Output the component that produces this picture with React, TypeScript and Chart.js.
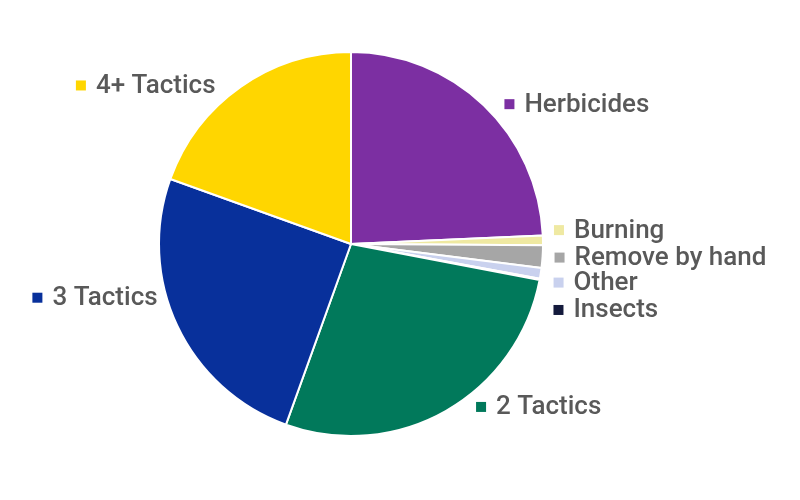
import React, { useEffect, useRef } from "react";
import { Chart, registerables } from "chart.js";

Chart.register(...registerables);

const categories = [
  "Herbicides",
  "Burning",
  "Remove by hand",
  "Other",
  "Insects",
  "2 Tactics",
  "3 Tactics",
  "4+ Tactics",
];
const values = [24.3, 0.8, 1.9, 0.9, 0.1, 27.5, 25.0, 19.5];
const colors = [
  "#7C2FA2",
  "#EFE9A2",
  "#A6A6A6",
  "#C9D1EE",
  "#141A3C",
  "#01795B",
  "#08309B",
  "#FFD600",
];
// label placement tweaks (px) relative to the outside anchor of each slice
const labelNudge: [number, number][] = [
  [11, 9],
  [-3, -10],
  [-2, 0],
  [-1, 7],
  [0, 28],
  [23, -16],
  [-7, -34],
  [-17, 10],
];

const LABEL_GAP = 14;
const FONT = "500 26px Roboto";
const TEXT_COLOR = "#595959";
const SQ = 10;
const SQ_GAP = 10;

const labelPlugin = {
  id: "outsideLabels",
  afterDatasetsDraw(chart: any) {
    const ctx = chart.ctx as CanvasRenderingContext2D;
    const meta = chart.getDatasetMeta(0);
    ctx.save();
    ctx.font = FONT;
    ctx.textBaseline = "middle";
    ctx.textAlign = "left";
    meta.data.forEach((arc: any, i: number) => {
      const p = arc.getProps(["x", "y", "startAngle", "endAngle", "outerRadius"], true);
      const mid = (p.startAngle + p.endAngle) / 2;
      const r = p.outerRadius + LABEL_GAP;
      const ax = p.x + Math.cos(mid) * r + labelNudge[i][0];
      const ay = p.y + Math.sin(mid) * r + labelNudge[i][1];
      const label = categories[i];
      const w = ctx.measureText(label).width;
      const boxW = SQ + SQ_GAP + w;
      const left = Math.cos(mid) >= 0 ? ax : ax - boxW;
      ctx.fillStyle = colors[i];
      ctx.fillRect(left, ay - SQ / 2, SQ, SQ);
      ctx.fillStyle = TEXT_COLOR;
      ctx.fillText(label, left + SQ + SQ_GAP, ay + 1);
    });
    ctx.restore();
  },
};

export default function App() {
  const ref = useRef<HTMLCanvasElement | null>(null);
  useEffect(() => {
    document.body.style.margin = "0";
    if (!ref.current) return;
    const chart = new Chart(ref.current, {
      type: "pie",
      data: {
        labels: categories,
        datasets: [
          {
            data: values,
            backgroundColor: colors,
            borderColor: "#FFFFFF",
            borderWidth: 2,
          },
        ],
      },
      options: {
        animation: false,
        responsive: false,
        maintainAspectRatio: false,
        layout: { padding: { left: 158, right: 256, top: 51, bottom: 63 } },
        plugins: {
          legend: { display: false },
          tooltip: { enabled: false },
        },
      },
      plugins: [labelPlugin],
    });
    return () => chart.destroy();
  }, []);
  return (
    <div style={{ position: "fixed", left: 0, top: 0, width: 800, height: 500, background: "#fff" }}>
      <canvas ref={ref} width={800} height={500} style={{ width: 800, height: 500 }} />
    </div>
  );
}
